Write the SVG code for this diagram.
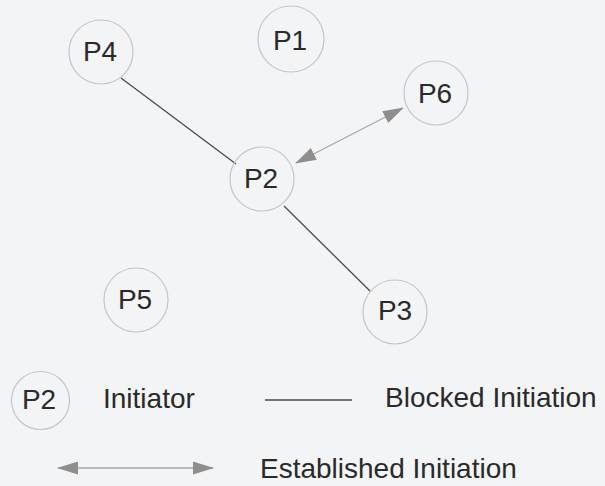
<svg xmlns="http://www.w3.org/2000/svg" width="605" height="486" viewBox="0 0 605 486">
  <style>
    .node circle { fill: none; stroke: #c4c6c8; stroke-width: 1.2; }
    text { font-family: "Liberation Sans", Arial, sans-serif; fill: #2a2a2a; font-size: 28px; }
    .lbl { text-anchor: middle; }
    .blocked { stroke: #4a4a4a; stroke-width: 1.3; fill: none; }
    .established { stroke: #a8a8a8; stroke-width: 1.3; fill: none; marker-start: url(#head); marker-end: url(#head); }
  </style>
  <defs>
    <marker id="head" viewBox="0 0 21 13" refX="20" refY="6.5" markerWidth="21" markerHeight="13" markerUnits="userSpaceOnUse" orient="auto-start-reverse">
      <path d="M0,0 L21,6.5 L0,13 Z" fill="#8e8e8e"/>
    </marker>
  </defs>
  <rect width="605" height="486" fill="#f3f4f6"/>

  <g id="connectors">
    <line class="blocked" x1="121" y1="78" x2="236" y2="164"/>
    <line class="blocked" x1="284" y1="206" x2="370" y2="291"/>
    <line class="established" x1="296" y1="163" x2="403" y2="108"/>
  </g>

  <g id="P1" class="node"><circle cx="291" cy="39" r="33"/><text class="lbl" x="290" y="50">P1</text></g>
  <g id="P4" class="node"><circle cx="101" cy="52" r="32"/><text class="lbl" x="100" y="61">P4</text></g>
  <g id="P6" class="node"><circle cx="436" cy="93" r="32"/><text class="lbl" x="435" y="103">P6</text></g>
  <g id="P2" class="node"><circle cx="262" cy="179" r="32"/><text class="lbl" x="261" y="188">P2</text></g>
  <g id="P5" class="node"><circle cx="136" cy="300" r="32"/><text class="lbl" x="135" y="309">P5</text></g>
  <g id="P3" class="node"><circle cx="395" cy="312" r="32"/><text class="lbl" x="395" y="320">P3</text></g>

  <g id="legend">
    <g id="legend-initiator" class="node"><circle cx="40.5" cy="400.5" r="29"/><text class="lbl" x="39" y="409">P2</text></g>
    <text x="103" y="408">Initiator</text>
    <line class="blocked" x1="265" y1="400" x2="352" y2="400"/>
    <text x="385" y="407">Blocked Initiation</text>
    <line class="established" x1="58" y1="468" x2="213" y2="468"/>
    <text x="260" y="478">Established Initiation</text>
  </g>
</svg>
